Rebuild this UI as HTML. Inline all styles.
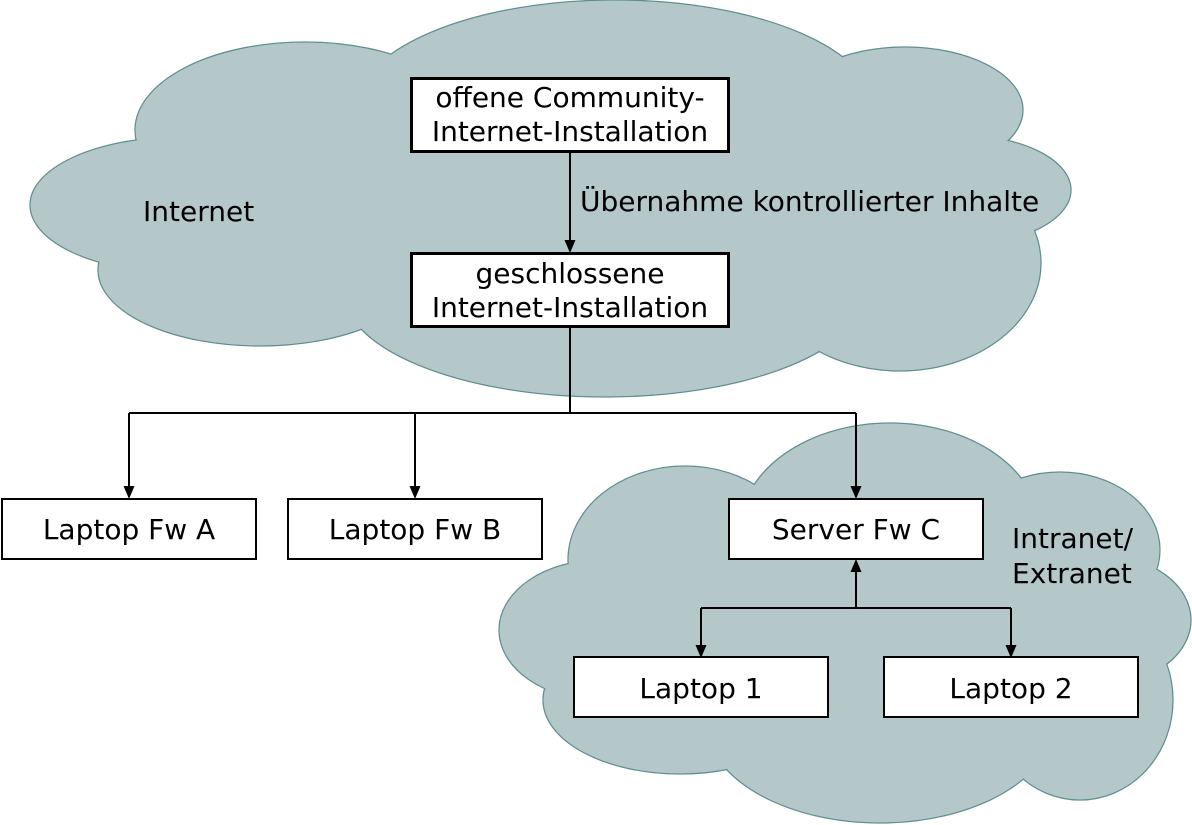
<!DOCTYPE html>
<html>
<head>
<meta charset="utf-8">
<style>
  html, body { margin: 0; padding: 0; background: #ffffff; }
  svg { display: block; }
  text { font-family: "DejaVu Sans", "Liberation Sans", sans-serif; font-size: 28px; fill: #000; }
</style>
</head>
<body>
<svg width="1192" height="825" viewBox="0 0 1192 825" xmlns="http://www.w3.org/2000/svg">
  <rect x="0" y="0" width="1192" height="825" fill="#ffffff"/>

  <!-- Top cloud: outline layer -->
  <g stroke="#5f8e8f" stroke-width="1.3" fill="#b4c7c9">
    <ellipse cx="305" cy="130" rx="170" ry="88"/>
    <ellipse cx="180" cy="205" rx="150" ry="68"/>
    <ellipse cx="260" cy="270" rx="162" ry="76"/>
    <ellipse cx="615" cy="110" rx="260" ry="110"/>
    <ellipse cx="605" cy="290" rx="262" ry="107"/>
    <ellipse cx="905" cy="110" rx="118" ry="63"/>
    <ellipse cx="960" cy="190" rx="111" ry="55"/>
    <ellipse cx="900" cy="263" rx="141" ry="108"/>
  </g>
  <!-- Top cloud: fill layer -->
  <g stroke="none" fill="#b4c7c9">
    <ellipse cx="305" cy="130" rx="169.3" ry="87.3"/>
    <ellipse cx="180" cy="205" rx="149.3" ry="67.3"/>
    <ellipse cx="260" cy="270" rx="161.3" ry="75.3"/>
    <ellipse cx="615" cy="110" rx="259.3" ry="109.3"/>
    <ellipse cx="605" cy="290" rx="261.3" ry="106.3"/>
    <ellipse cx="905" cy="110" rx="117.3" ry="62.3"/>
    <ellipse cx="960" cy="190" rx="110.3" ry="54.3"/>
    <ellipse cx="900" cy="263" rx="140.3" ry="107.3"/>
    <ellipse cx="600" cy="200" rx="380" ry="110"/>
  </g>

  <!-- Bottom cloud: outline layer -->
  <g stroke="#5f8e8f" stroke-width="1.3" fill="#b4c7c9">
    <ellipse cx="685" cy="560" rx="117" ry="94"/>
    <ellipse cx="890" cy="530" rx="150" ry="107"/>
    <ellipse cx="1060" cy="550" rx="100" ry="78"/>
    <ellipse cx="1100" cy="620" rx="91" ry="65"/>
    <ellipse cx="1080" cy="700" rx="93" ry="100"/>
    <ellipse cx="880" cy="720" rx="175" ry="103"/>
    <ellipse cx="680" cy="700" rx="137" ry="74"/>
    <ellipse cx="600" cy="630" rx="101" ry="70"/>
  </g>
  <!-- Bottom cloud: fill layer -->
  <g stroke="none" fill="#b4c7c9">
    <ellipse cx="685" cy="560" rx="116.3" ry="93.3"/>
    <ellipse cx="890" cy="530" rx="149.3" ry="106.3"/>
    <ellipse cx="1060" cy="550" rx="99.3" ry="77.3"/>
    <ellipse cx="1100" cy="620" rx="90.3" ry="64.3"/>
    <ellipse cx="1080" cy="700" rx="92.3" ry="99.3"/>
    <ellipse cx="880" cy="720" rx="174.3" ry="102.3"/>
    <ellipse cx="680" cy="700" rx="136.3" ry="73.3"/>
    <ellipse cx="600" cy="630" rx="100.3" ry="69.3"/>
    <ellipse cx="850" cy="640" rx="260" ry="120"/>
  </g>

  <!-- Connectors -->
  <g stroke="#000" stroke-width="2" fill="none">
    <path d="M570 153 V241"/>
    <path d="M570 328 V413 M129 413 H856 M129 413 V487 M415 413 V487 M856 413 V487"/>
    <path d="M856 571 V608 M701 608 H1011 M701 608 V646 M1011 608 V646"/>
  </g>
  <g fill="#000" stroke="none">
    <polygon points="564.5,240 575.5,240 570,253"/>
    <polygon points="123.5,486 134.5,486 129,499"/>
    <polygon points="409.5,486 420.5,486 415,499"/>
    <polygon points="850.5,486 861.5,486 856,499"/>
    <polygon points="850.5,572 861.5,572 856,559"/>
    <polygon points="695.5,645 706.5,645 701,658"/>
    <polygon points="1005.5,645 1016.5,645 1011,658"/>
  </g>

  <!-- Boxes -->
  <g fill="#ffffff" stroke="#000">
    <rect x="411.5" y="78.5" width="317" height="73" stroke-width="3"/>
    <rect x="411.5" y="253.5" width="317" height="73" stroke-width="3"/>
    <rect x="2" y="499" width="254" height="60" stroke-width="2"/>
    <rect x="288" y="499" width="254" height="60" stroke-width="2"/>
    <rect x="729" y="499" width="254" height="60" stroke-width="2"/>
    <rect x="574" y="657" width="254" height="60" stroke-width="2"/>
    <rect x="884" y="657" width="254" height="60" stroke-width="2"/>
  </g>

  <!-- Labels -->
  <text x="570" y="107" text-anchor="middle">offene Community-</text>
  <text x="570" y="141" text-anchor="middle">Internet-Installation</text>
  <text x="570" y="283" text-anchor="middle">geschlossene</text>
  <text x="570" y="317" text-anchor="middle">Internet-Installation</text>
  <text x="580" y="211">Übernahme kontrollierter Inhalte</text>
  <text x="143" y="221">Internet</text>
  <text x="129" y="539" text-anchor="middle">Laptop Fw A</text>
  <text x="415" y="539" text-anchor="middle">Laptop Fw B</text>
  <text x="856" y="539" text-anchor="middle">Server Fw C</text>
  <text x="701" y="698" text-anchor="middle">Laptop 1</text>
  <text x="1011" y="698" text-anchor="middle">Laptop 2</text>
  <text x="1012" y="548">Intranet/</text>
  <text x="1012" y="583">Extranet</text>
</svg>
</body>
</html>
